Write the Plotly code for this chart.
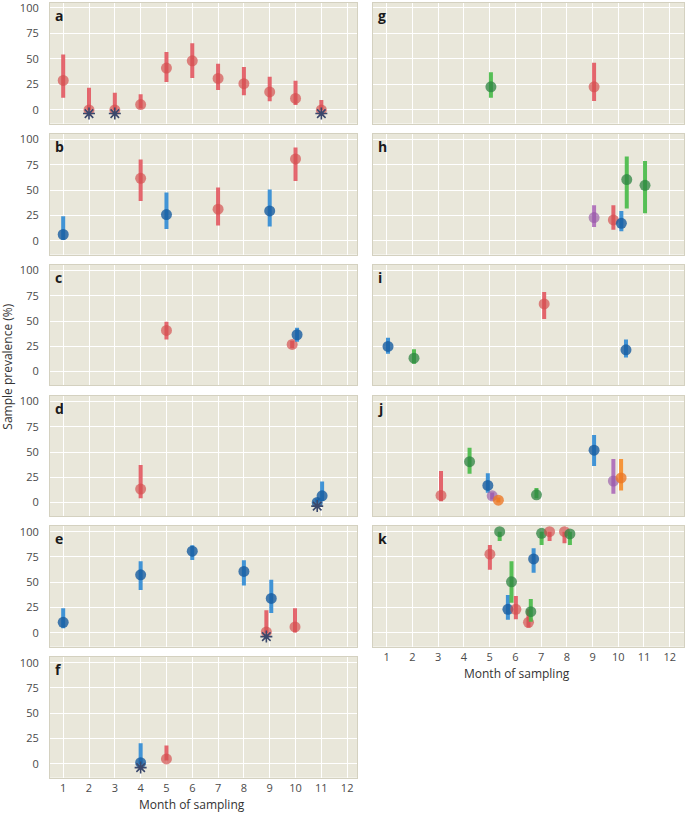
import plotly.graph_objects as go

# ---------------- data ----------------
A_MONTH = [1, 2, 3, 4, 5, 6, 7, 8, 9, 10, 11]
A_GROUP = ["red"] * 11
A_PREV = [28.9, 0, 0, 5.2, 41, 48.2, 30.9, 25.7, 17.6, 11.3, 0]
A_LOW = [12.0, 0, 0, 1.3, 27.4, 31.3, 19.5, 14.3, 8.4, 4.9, 0]
A_HIGH = [54.3, 21.8, 16.9, 15.3, 56.7, 65.5, 45.3, 42.0, 32.6, 28.6, 9.8]
A_NONE = [2, 3, 11]

B_MONTH = [1, 4, 5, 7, 9, 10]
B_GROUP = ["blue", "red", "blue", "red", "blue", "red"]
B_PREV = [6.3, 61.8, 26, 31.3, 29.6, 80.9]
B_LOW = [1, 39.5, 11.8, 15.1, 14.1, 59.2]
B_HIGH = [24.3, 80.3, 47.7, 52.6, 50.7, 92.1]
B_NONE = []

C_MONTH = [5, 9.87, 10.06]
C_GROUP = ["red", "red", "blue"]
C_PREV = [40.7, 26.8, 36.4]
C_LOW = [31.8, 23, 29.5]
C_HIGH = [49.3, 30.5, 43.4]
C_NONE = []

D_MONTH = [4, 10.84, 11.03]
D_GROUP = ["red", "blue", "blue"]
D_PREV = [13.3, 0, 6.6]
D_LOW = [4.3, 0, 1.5]
D_HIGH = [37.2, 4, 20.9]
D_NONE = [10.84]

E_MONTH = [1, 4, 6, 8, 9.06, 8.87, 9.98]
E_GROUP = ["blue", "blue", "blue", "blue", "blue", "red", "red"]
E_PREV = [10.5, 57.4, 80.7, 60.7, 34.1, 1, 5.9]
E_LOW = [4.6, 42.3, 72.1, 46.9, 19.7, 0, 0.5]
E_HIGH = [24.3, 70.8, 86.6, 71.8, 52.5, 22.3, 24.3]
E_NONE = [8.87]

F_MONTH = [4, 5]
F_GROUP = ["blue", "red"]
F_PREV = [1.3, 5]
F_LOW = [0, 3.3]
F_HIGH = [20.5, 18.2]
F_NONE = [4]

G_MONTH = [5.05, 9.06]
G_GROUP = ["green", "red"]
G_PREV = [22.6, 22.6]
G_LOW = [11.8, 8.8]
G_HIGH = [37, 46.2]
G_NONE = []

H_MONTH = [9.06, 9.81, 10.12, 10.33, 11.04]
H_GROUP = ["purple", "red", "blue", "green", "green"]
H_PREV = [23, 20.7, 17.4, 60.5, 54.9]
H_LOW = [13.8, 10.9, 9.5, 31.9, 27.3]
H_HIGH = [35.2, 35.2, 29.6, 83.2, 78.9]
H_NONE = []

I_MONTH = [1.05, 2.06, 7.12, 10.3]
I_GROUP = ["blue", "green", "red", "blue"]
I_PREV = [24.8, 13.2, 66.9, 21.5]
I_LOW = [17.5, 7.6, 52, 13.9]
I_HIGH = [33.4, 21.9, 78.8, 31.8]
I_NONE = []

J_MONTH = [3.11, 4.22, 4.93, 5.1, 5.34, 6.82, 9.06, 9.81, 10.11]
J_GROUP = ["red", "green", "blue", "purple", "orange", "green", "blue", "purple", "orange"]
J_PREV = [7, 40.5, 16.9, 6.6, 2.3, 7.6, 51.8, 21.3, 24.3]
J_LOW = [1.3, 28.6, 9.6, 3, 0, 4.3, 36.2, 8.6, 12]
J_HIGH = [31.2, 54.2, 28.9, 10, 5, 14.3, 66.8, 43.2, 43.2]
J_NONE = []

K_MONTH = [5.01, 5.39, 5.71, 5.85, 6.02, 6.51, 6.6, 6.71, 7.02, 7.33, 7.91, 8.12]
K_GROUP = ["red", "green", "blue", "green", "red", "red", "green", "blue", "green", "red", "red", "green"]
K_PREV = [77.7, 100, 23.3, 50.5, 23.3, 10.5, 21, 73.1, 98.4, 100, 100, 97.7]
K_LOW = [62.3, 90.8, 13.1, 29.8, 13.4, 5, 11, 59.3, 86.9, 90.8, 88.5, 86.9]
K_HIGH = [86.9, 100, 37.4, 70.8, 36.4, 23.3, 33.4, 83.6, 100, 100, 100, 100]
K_NONE = []

MONTH_TICKS = [1, 2, 3, 4, 5, 6, 7, 8, 9, 10, 11, 12]
PREV_TICKS = [0, 25, 50, 75, 100]

# ---------------- styling ----------------
W, H = 685, 813
BG = "rgb(233,231,218)"
FONT = "Open Sans"
BAR_COL = {
    "red": "rgba(226,78,88,0.85)",
    "blue": "rgba(45,138,212,0.9)",
    "green": "rgba(70,186,70,0.9)",
    "purple": "rgba(168,98,182,0.85)",
    "orange": "rgba(246,140,40,0.9)",
}
MARK_COL = {
    "red": "rgba(212,78,78,0.68)",
    "blue": "rgba(22,92,160,0.8)",
    "green": "rgba(45,132,65,0.75)",
    "purple": "rgba(150,88,168,0.65)",
    "orange": "rgba(236,118,36,0.78)",
}
STAR_COL = "rgb(58,72,108)"
STAR_Y = -3.6

panels = [
    ("a", "left", 0, A_MONTH, A_GROUP, A_PREV, A_LOW, A_HIGH, A_NONE),
    ("b", "left", 1, B_MONTH, B_GROUP, B_PREV, B_LOW, B_HIGH, B_NONE),
    ("c", "left", 2, C_MONTH, C_GROUP, C_PREV, C_LOW, C_HIGH, C_NONE),
    ("d", "left", 3, D_MONTH, D_GROUP, D_PREV, D_LOW, D_HIGH, D_NONE),
    ("e", "left", 4, E_MONTH, E_GROUP, E_PREV, E_LOW, E_HIGH, E_NONE),
    ("f", "left", 5, F_MONTH, F_GROUP, F_PREV, F_LOW, F_HIGH, F_NONE),
    ("g", "right", 0, G_MONTH, G_GROUP, G_PREV, G_LOW, G_HIGH, G_NONE),
    ("h", "right", 1, H_MONTH, H_GROUP, H_PREV, H_LOW, H_HIGH, H_NONE),
    ("i", "right", 2, I_MONTH, I_GROUP, I_PREV, I_LOW, I_HIGH, I_NONE),
    ("j", "right", 3, J_MONTH, J_GROUP, J_PREV, J_LOW, J_HIGH, J_NONE),
    ("k", "right", 4, K_MONTH, K_GROUP, K_PREV, K_LOW, K_HIGH, K_NONE),
]

ROW_TOP = [0, 131, 262.5, 394, 524.5, 656]
ROW_BOT = [121, 252.5, 383.5, 515, 646, 777.5]
COL_X = {"left": (50, 358), "right": (373.3, 685)}
COL_RANGE = {"left": [0.486, 12.4], "right": [0.457, 12.555]}

fig = go.Figure()
layout = {}
annotations = []

for idx, (letter, col, row, mon, grp, prev, low, high, none) in enumerate(panels):
    n = idx + 1
    xa = "x" if n == 1 else f"x{n}"
    ya = "y" if n == 1 else f"y{n}"
    xkey = "xaxis" if n == 1 else f"xaxis{n}"
    ykey = "yaxis" if n == 1 else f"yaxis{n}"
    x0, x1 = COL_X[col]
    top, bot = ROW_TOP[row], ROW_BOT[row]
    yrange = [-13.4, 104.9] if row == 0 else [-13.5, 106]
    bottom_row = (col == "left" and row == 5) or (col == "right" and row == 4)

    layout[xkey] = dict(
        domain=[x0 / W, x1 / W], anchor=ya, range=COL_RANGE[col],
        tickvals=MONTH_TICKS, showticklabels=bottom_row,
        ticks="", showgrid=True, gridcolor="white", gridwidth=1.3,
        zeroline=False, showline=True, linecolor="rgb(212,209,192)", linewidth=1, mirror=True,
        tickfont=dict(family=FONT, size=11, color="#4a4a4a"),
        ticklabeloverflow="allow", fixedrange=True,
    )
    layout[ykey] = dict(
        domain=[1 - bot / H, 1 - top / H], anchor=xa, range=yrange,
        tickvals=PREV_TICKS, showticklabels=(col == "left"),
        ticks="outside", ticklen=8, tickcolor="rgba(0,0,0,0)",
        showgrid=True, gridcolor="white", gridwidth=1.3,
        zeroline=False, showline=True, linecolor="rgb(212,209,192)", linewidth=1, mirror=True,
        tickfont=dict(family=FONT, size=11, color="#4a4a4a"),
        ticklabeloverflow="allow", fixedrange=True,
    )

    for m, g, p, lo, hi in zip(mon, grp, prev, low, high):
        fig.add_trace(go.Scatter(
            x=[m], y=[p], xaxis=xa, yaxis=ya, mode="markers", showlegend=False,
            marker=dict(size=11, color=MARK_COL[g], line=dict(width=0)),
            error_y=dict(type="data", symmetric=False, array=[hi - p], arrayminus=[p - lo],
                         color=BAR_COL[g], thickness=4, width=0),
            hoverinfo="skip",
        ))
    if none:
        fig.add_trace(go.Scatter(
            x=none, y=[STAR_Y] * len(none), xaxis=xa, yaxis=ya, mode="markers", showlegend=False,
            marker=dict(symbol="asterisk-open", size=10, color=STAR_COL,
                        line=dict(width=1.6, color=STAR_COL)),
            hoverinfo="skip",
        ))

    annotations.append(dict(
        text=f"<b>{letter}</b>", xref=f"{xa} domain", yref=f"{ya} domain", x=0, y=1,
        xanchor="left", yanchor="top", xshift=3, yshift=-1, showarrow=False,
        font=dict(family=FONT, size=14, color="#1a1a1a")))

annotations += [
    dict(text="Sample prevalence (%)", xref="paper", yref="paper", x=8 / W, y=1 - 365 / H,
         textangle=-90, showarrow=False, xanchor="center", yanchor="middle",
         font=dict(family=FONT, size=12, color="#333")),
    dict(text="Month of sampling", xref="paper", yref="paper", x=192 / W, y=1 - 804 / H,
         showarrow=False, xanchor="center", yanchor="middle",
         font=dict(family=FONT, size=12, color="#333")),
    dict(text="Month of sampling", xref="paper", yref="paper", x=517.5 / W, y=1 - 672.7 / H,
         showarrow=False, xanchor="center", yanchor="middle",
         font=dict(family=FONT, size=12, color="#333")),
]

fig.update_layout(
    **layout,
    annotations=annotations,
    width=W, height=H, margin=dict(l=0, r=0, t=0, b=0),
    paper_bgcolor="white", plot_bgcolor=BG,
    font=dict(family=FONT),
    showlegend=False, hovermode=False,
)

fig.write_html("out.html", config={"displayModeBar": False},
               post_script="document.body.style.margin='0';document.body.style.overflow='hidden';")
